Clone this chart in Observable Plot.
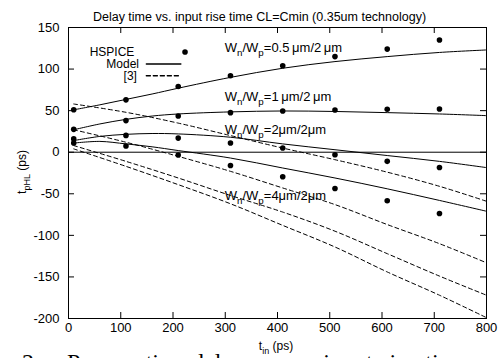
<!DOCTYPE html>
<html>
<head>
<meta charset="utf-8">
<script src="https://cdn.jsdelivr.net/npm/d3@7"></script>
<script src="https://cdn.jsdelivr.net/npm/@observablehq/plot@0.6"></script>
<style>
  body { margin: 0; background: #fff; }
  #chart { position: relative; width: 503px; height: 358px; overflow: hidden; }
  #caption { position: absolute; left: 22px; top: 350px; font-family: "Liberation Serif", "Times New Roman", serif;
             font-size: 24px; line-height: 24px; white-space: pre; color: #000; word-spacing: 3px; }
</style>
</head>
<body>
<div id="chart"><div id="caption"></div></div>
<script>
// ---- data ----
const title = "Delay time vs. input rise time CL=Cmin (0.35um technology)";
const caption = "2.   Propagation delay versus input rise time";
const xTicks = [0, 100, 200, 300, 400, 500, 600, 700, 800];
const yTicks = [-200, -150, -100, -50, 0, 50, 100, 150];

const hspiceT = [10, 110, 210, 310, 410, 510, 610, 710];
const hspice05 = [51, 63, 79, 92, 104, 115, 124, 135];
const hspice1 = [27.5, 38, 43.6, 47.6, 49.6, 50.8, 51.6, 52];
const hspice2 = [16, 20.2, 17, 11, 5, -3, -11, -18.3];
const hspice4 = [11, 7.4, -3.4, -16, -29.5, -43.6, -58.4, -73.7];

const modelT = [10, 60, 110, 160, 210, 310, 410, 510, 610, 710, 800];
const model05 = [51, 57, 63.5, 70, 77, 90, 101, 109, 115, 120, 123];
const model1 = [27, 34, 39.5, 43.5, 46, 48.5, 49.6, 49, 47.6, 46, 44];
const model2 = [14, 19, 21.5, 22.5, 22, 18, 10, 3, -4, -11, -18.5];
const model4 = [11, 13, 10, 6.5, 2, -7, -19, -31, -44, -58, -71];

const refT = [10, 110, 210, 310, 410, 510, 610, 710, 800];
const ref05 = [58, 48, 35, 20, 5, -9, -24, -41, -59];
const ref1 = [27, 12, -5, -23, -43, -63, -87, -110, -133];
const ref2 = [8, -11, -31, -52, -72, -95, -122, -149, -172];
const ref4 = [4, -17, -39, -62, -88, -114, -144, -172, -199];

const legendLabels = ["HSPICE", "Model", "[3]"];
const legendLabelT = [126, 135, 131];
const legendV = [120.5, 106, 92];
const legendKeyT = [223, 149, 215];

const seriesNames = ["0.5\u2009\u03bcm/2\u2009\u03bcm", "1\u2009\u03bcm/2\u2009\u03bcm", "2\u03bcm/2\u03bcm", "4\u03bcm/2\u03bcm"];
const seriesLabelT = [300, 300, 300, 300];
const seriesLabelV = [120, 61, 21, -58];

// ---- build tables ----
const pts = [];
[[hspice05, "0.5"], [hspice1, "1"], [hspice2, "2"], [hspice4, "4"]].forEach(([arr, s]) =>
  arr.forEach((v, i) => pts.push({t: hspiceT[i], v, s})));
const models = [];
[[model05, "0.5"], [model1, "1"], [model2, "2"], [model4, "4"]].forEach(([arr, s]) =>
  arr.forEach((v, i) => models.push({t: modelT[i], v, s})));
const refs = [];
[[ref05, "0.5"], [ref1, "1"], [ref2, "2"], [ref4, "4"]].forEach(([arr, s]) =>
  arr.forEach((v, i) => refs.push({t: refT[i], v, s})));

const W = 503, H = 358;
const mL = 68, mR = 17, mT = 27, mB = 40;
const innerH = H - mT - mB;
const innerW = W - mL - mR;
const font = "Liberation Sans, Arial, Helvetica, sans-serif";

const plot = Plot.plot({
  width: W, height: H,
  marginLeft: mL, marginRight: mR, marginTop: mT, marginBottom: mB,
  style: {fontFamily: font, fontSize: "13px", color: "#000", background: "transparent", overflow: "visible"},
  x: {domain: [0, 800], axis: null},
  y: {domain: [-200, 150], axis: null},
  marks: [
    Plot.frame({stroke: "#000", strokeWidth: 1}),
    Plot.ruleY([0], {stroke: "#000", strokeWidth: 1}),
    // inward ticks
    Plot.ruleX(xTicks, {x: d => d, insetTop: innerH - 6, stroke: "#000"}),
    Plot.ruleX(xTicks, {x: d => d, insetBottom: innerH - 6, stroke: "#000"}),
    Plot.ruleY(yTicks, {y: d => d, insetRight: innerW - 6, stroke: "#000"}),
    Plot.ruleY(yTicks, {y: d => d, insetLeft: innerW - 6, stroke: "#000"}),
    // tick labels
    Plot.text(xTicks, {x: d => d, frameAnchor: "bottom", dy: 4, lineAnchor: "top", text: d => String(d), fill: "#000", fontSize: 13}),
    Plot.text(yTicks, {y: d => d, frameAnchor: "left", dx: -9, textAnchor: "end", text: d => String(d), fill: "#000", fontSize: 13}),
    // data
    Plot.line(models, {x: "t", y: "v", z: "s", curve: "catmull-rom", stroke: "#000", strokeWidth: 1}),
    Plot.line(refs, {x: "t", y: "v", z: "s", curve: "catmull-rom", stroke: "#000", strokeWidth: 1, strokeDasharray: "4,3", clip: true}),
    Plot.dot(pts, {x: "t", y: "v", r: 2.8, fill: "#000", stroke: "none"}),
    // legend
    Plot.text(legendLabels, {x: (d, i) => legendLabelT[i], y: (d, i) => legendV[i], textAnchor: "end", text: d => d, fill: "#000", fontSize: 12}),
    Plot.dot([0], {x: () => legendKeyT[0], y: () => legendV[0], r: 2.8, fill: "#000", stroke: "none"}),
    Plot.line([legendKeyT[1], legendKeyT[2]], {x: d => d, y: () => legendV[1], stroke: "#000"}),
    Plot.line([legendKeyT[1], legendKeyT[2]], {x: d => d, y: () => legendV[2], stroke: "#000", strokeDasharray: "4,3"}),
    // title
    Plot.text([title], {frameAnchor: "top", dy: -15, dx: -18, text: d => d, fill: "#000", fontSize: 12.5})
  ]
});

document.getElementById("chart").insertBefore(plot, document.getElementById("caption"));
document.getElementById("caption").textContent = caption;

// labels with subscripts
const svg = d3.select(plot);
const xs = d3.scaleLinear([0, 800], [mL, W - mR]);
const ys = d3.scaleLinear([-200, 150], [H - mB, mT]);

function addSubLabel(g, x, y, parts, size, anchor, rotate) {
  const t = g.append("text")
    .attr("font-family", font).attr("font-size", size).attr("fill", "#000")
    .attr("text-anchor", anchor || "start");
  if (rotate) t.attr("transform", `translate(${x},${y}) rotate(-90)`);
  else t.attr("x", x).attr("y", y);
  let prevSub = false;
  parts.forEach(([s, sub]) => {
    const ts = t.append("tspan").text(s);
    if (sub) ts.attr("font-size", size * 0.75).attr("dy", size * 0.3);
    else if (prevSub) ts.attr("dy", -size * 0.3);
    prevSub = !!sub;
  });
  return t;
}

const g = svg.append("g");
seriesNames.forEach((name, i) => {
  addSubLabel(g, xs(seriesLabelT[i]), ys(seriesLabelV[i]), [["W"], ["n", true], ["/W"], ["p", true], ["=" + name]], 13);
});
addSubLabel(g, 26, 172, [["t"], ["pHL", true], [" (ps)"]], 12, "middle", true);
addSubLabel(g, 276, 350, [["t"], ["in", true], [" (ps)"]], 12, "middle");
</script>
</body>
</html>
